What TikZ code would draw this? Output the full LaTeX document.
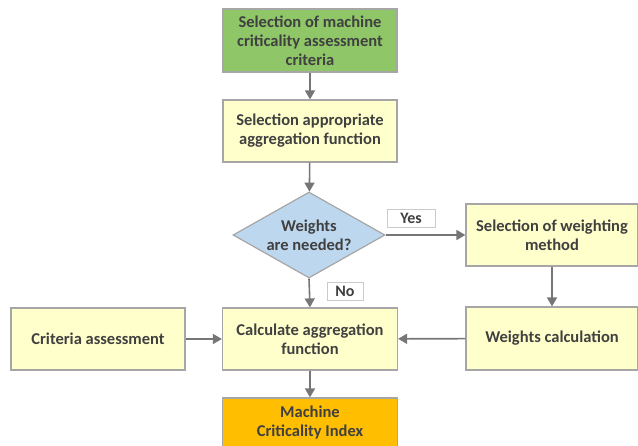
\documentclass[tikz,border=0pt]{standalone}
\usepackage{fontspec}
\setmainfont{Carlito}
\usetikzlibrary{shapes.geometric,arrows.meta}
\definecolor{stepgreen}{RGB}{143, 198, 104}
\definecolor{stepyellow}{RGB}{255, 255, 204}
\definecolor{stepblue}{RGB}{189, 215, 238}
\definecolor{steporange}{RGB}{255, 190, 0}
\definecolor{edgegray}{RGB}{166, 166, 166}
\definecolor{linegray}{RGB}{118, 118, 118}
\definecolor{textgray}{RGB}{64, 64, 64}

\tikzset{
    stepbox/.style={rectangle,draw=edgegray,line width=1.2pt,fill=stepyellow,text=textgray,
        align=center,inner sep=2pt,font=\fontsize{16.5}{19}\selectfont\bfseries},
    flow/.style={draw=linegray,line width=1.6pt,-{Triangle[length=9pt,width=10pt]}},
    answer/.style={rectangle,draw=edgegray!60,line width=0.6pt,fill=white,text=textgray,
        inner sep=2pt,font=\fontsize{16}{18}\selectfont\bfseries}
}

\begin{document}
\begin{tikzpicture}[x=1pt,y=-1pt]
        \useasboundingbox (0,0) rectangle (638,445);
        \node[stepbox,fill=stepgreen,minimum width=174pt,minimum height=63pt] (criteria) at (310,40.5)
            {Selection of machine\\criticality assessment\\criteria};
        \node[stepbox,minimum width=174pt,minimum height=62pt] (aggsel) at (310,131)
            {Selection appropriate\\aggregation function};
        \node[stepbox,diamond,fill=stepblue,aspect=1.77,inner sep=0pt,minimum width=152pt,minimum height=86pt] (needed) at (309,235)
            {Weights\\are needed?};
        \node[stepbox,minimum width=172pt,minimum height=62pt] (method) at (552,235)
            {Selection of weighting\\method};
        \node[stepbox,minimum width=174pt,minimum height=62pt] (assess) at (98,339)
            {Criteria assessment};
        \node[stepbox,minimum width=175pt,minimum height=62pt] (calc) at (310,339)
            {Calculate aggregation\\function};
        \node[stepbox,minimum width=172pt,minimum height=63pt] (wcalc) at (552,338.5)
            {Weights calculation};
        \node[stepbox,fill=steporange,minimum width=175pt,minimum height=50pt] (index) at (310,423)
            {Machine\\Criticality Index};

        \draw[flow] (criteria) -- (aggsel);
        \draw[flow] (aggsel) -- (needed);
        \draw[flow] (needed.east) -- (method.west);
        \draw[flow] (needed.south) -- (calc.north);
        \draw[flow] (method) -- (wcalc);
        \draw[flow] (assess) -- (calc);
        \draw[flow] (wcalc) -- (calc);
        \draw[flow] (calc) -- (index);

        \node[answer,minimum width=48pt,minimum height=18pt] (yes) at (411,218.5) {Yes};
        \node[answer,minimum width=36pt,minimum height=18pt] (no) at (345,291.5) {No};
    \end{tikzpicture}
\end{document}
